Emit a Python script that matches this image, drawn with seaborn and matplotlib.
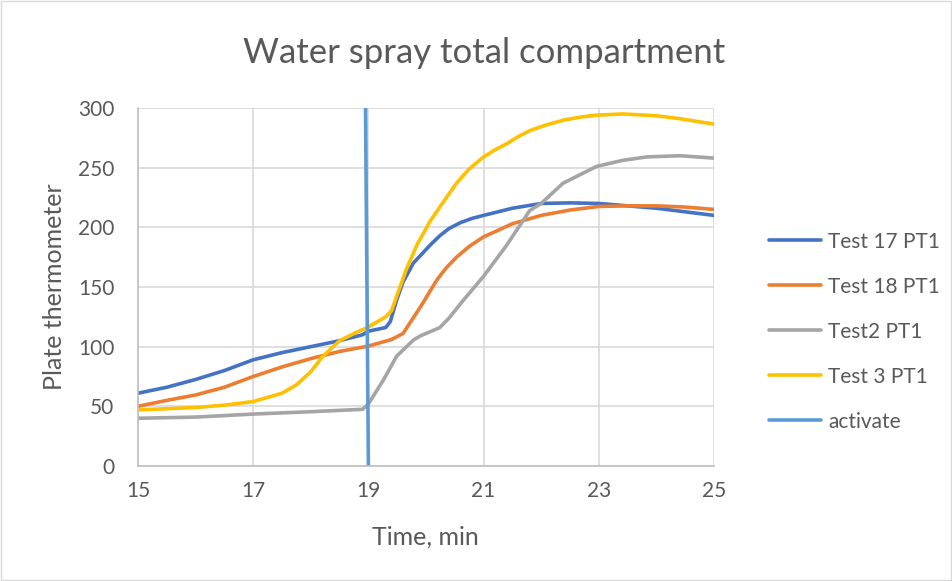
import pandas as pd
import matplotlib.pyplot as plt
import seaborn as sns
from matplotlib.patches import Rectangle

sns.set_theme(style="white")
plt.rcParams['font.family'] = ['Lato', 'DejaVu Sans']

# series (time in minutes, plate thermometer value)
t_17 = [15, 15.5, 16, 16.5, 17, 17.5, 18, 18.5, 18.9, 19.0, 19.3, 19.38, 19.49, 19.6,
        19.78, 20.07, 20.24, 20.4, 20.6, 20.8, 21.0, 21.5, 22.0, 22.5, 23.0, 23.5, 24.0, 24.5, 25]
v_17 = [61, 66, 72.5, 80, 89, 95, 100, 105, 110, 113, 116, 121, 139, 154,
        170, 185, 193, 199, 204, 207.5, 210, 216, 220, 220.5, 220, 218, 216, 213, 210]

t_18 = [15, 15.5, 16, 16.5, 17, 17.5, 18, 18.5, 19, 19.4, 19.6, 19.9, 20.19, 20.35, 20.53,
        20.75, 21.0, 21.5, 22.0, 22.5, 23.0, 23.5, 24.0, 24.5, 25]
v_18 = [50, 55, 59.5, 66, 75, 83, 90, 96, 100.5, 106, 111, 133, 156, 166, 175,
        184, 192, 203, 210, 214.5, 217.5, 218, 218, 217, 215]

t_2 = [15, 16, 17, 18, 18.9, 19.0, 19.26, 19.49, 19.78, 19.9, 20.07, 20.24, 20.4, 20.65, 21.0,
       21.4, 21.8, 22.0, 22.2, 22.38, 22.96, 23.4, 23.83, 24.41, 25]
v_2 = [40, 41, 43.5, 45.5, 47.5, 52, 72, 92, 105.5, 109, 112.5, 116, 124, 139, 159,
       185, 214, 220, 229, 237, 251, 256, 259, 260, 258]

t_3 = [15, 15.5, 16, 16.5, 17, 17.5, 17.75, 18, 18.2, 18.5, 18.75, 19, 19.3, 19.4,
       19.66, 19.85, 20.07, 20.24, 20.53, 20.75, 21.0, 21.2, 21.4, 21.6, 21.8, 22.1, 22.4,
       22.7, 22.96, 23.42, 24.0, 24.41, 25]
v_3 = [47, 48, 49, 51, 54, 61, 68, 79, 91.5, 105, 111, 116.5, 125, 130,
       165, 186, 205, 217, 237, 249, 259, 265, 270, 276, 281, 286, 290,
       292.5, 294, 295, 293.5, 291, 286.5]

t_act = [18.95, 19.0]
v_act = [300, 0]

names = ["Test 17 PT1", "Test 18 PT1", "Test2 PT1", "Test 3 PT1", "activate"]
colors = ["#4472C4", "#ED7D31", "#A5A5A5", "#FFC000", "#5B9BD5"]

frames = []
for name, t, v in zip(names, [t_17, t_18, t_2, t_3, t_act], [v_17, v_18, v_2, v_3, v_act]):
    frames.append(pd.DataFrame({"Time": t, "Value": v, "Series": name}))
df = pd.concat(frames, ignore_index=True)

fig = plt.figure(figsize=(9.53, 5.81), dpi=100)
ax = fig.add_axes([138 / 953, 1 - 466 / 581, (714 - 138) / 953, (466 - 108) / 581])

sns.lineplot(data=df, x="Time", y="Value", hue="Series", hue_order=names,
             palette=dict(zip(names, colors)), sort=False, estimator=None,
             linewidth=2.6, ax=ax)

ax.set_xlim(15, 25)
ax.set_ylim(0, 300)
ax.set_xticks([15, 17, 19, 21, 23, 25])
ax.set_yticks(range(0, 301, 50))
ax.grid(True, color="#d9d9d9", linewidth=1.2)
ax.set_axisbelow(True)
for side in ["top", "right"]:
    ax.spines[side].set_visible(False)
for side in ["left", "bottom"]:
    ax.spines[side].set_color("#bfbfbf")
    ax.spines[side].set_linewidth(1.2)
ax.tick_params(axis="both", length=0, labelsize=15, colors="#595959")
ax.tick_params(axis="y", pad=17)
ax.tick_params(axis="x", pad=11)

ax.set_xlabel("Time, min", fontsize=18, color="#595959")
ax.set_ylabel("Plate thermometer", fontsize=18, color="#595959")
ax.xaxis.label.set_va("center")
ax.yaxis.label.set_va("center")
ax.xaxis.set_label_coords((425 - 138) / 576, (466 - 537) / 358)
ax.yaxis.set_label_coords((55 - 138) / 576, 0.5)

fig.suptitle("Water spray total compartment", x=(247 + 722) / 2 / 953, y=1 - 53 / 581,
             va="center", fontsize=25, color="#595959")

leg = ax.legend(loc="upper left", bbox_to_anchor=(750 / 953, 1 - 213 / 581),
                bbox_transform=fig.transFigure, frameon=False, fontsize=15,
                handlelength=2.5, labelspacing=1.2, handletextpad=0.35)
for txt in leg.get_texts():
    txt.set_color("#595959")

fig.patches.append(Rectangle((0.001, 0.001), 0.997, 0.997, transform=fig.transFigure,
                             fill=False, edgecolor="#d9d9d9", linewidth=1))

plt.savefig("out.png", dpi=100)
